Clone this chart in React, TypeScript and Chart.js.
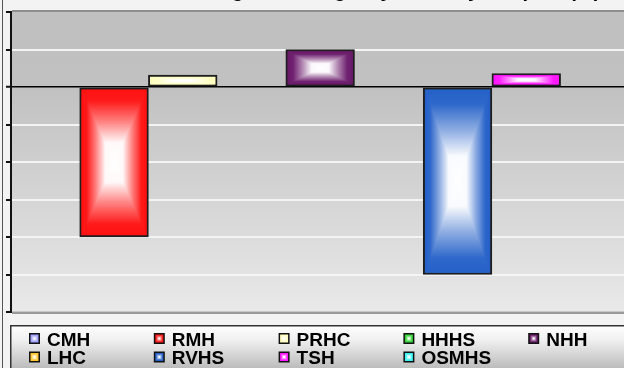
import React, { useEffect, useRef } from "react";
import { Chart, registerables } from "chart.js";

Chart.register(...registerables);

// ---- data ----
const hospitals = ["CMH", "RMH", "PRHC", "HHHS", "NHH", "LHC", "RVHS", "TSH", "OSMHS"];
const changeValues: (number | null)[] = [null, -4, 0.32, null, 1, null, -5, 0.36, null];
const hospitalColors = [
  "#9c9cff", "#ff1212", "#ffffc0", "#33d433", "#6a1a6a",
  "#ffc52a", "#2662c8", "#ff14ff", "#36f2f2",
];
const yMin = -6;
const yMax = 2;
const yStep = 1;
const chartTitle = "Change in Emergency Visits by Hospital (%)";

// ---- canvas geometry ----
const CW = 680;
const CH = 430;
const SHIFT_Y = 30;

function mixWhite(hex: string, w: number): string {
  const n = parseInt(hex.slice(1), 16);
  const r = (n >> 16) & 255, g = (n >> 8) & 255, b = n & 255;
  const m = (c: number) => Math.round(c + (255 - c) * w);
  return `rgb(${m(r)},${m(g)},${m(b)})`;
}

// amount of white at relative depth t (0 = edge, 1 = centre)
const RAMP: [number, number][] = [[0, 0], [0.15, 0.04], [0.45, 0.5], [0.72, 0.97], [1, 1]];
function whiteAt(t: number): number {
  for (let i = 1; i < RAMP.length; i++) {
    const [p0, w0] = RAMP[i - 1];
    const [p1, w1] = RAMP[i];
    if (t <= p1) return w0 + ((t - p0) / (p1 - p0)) * (w1 - w0);
  }
  return 1;
}

// rectangular "path" gradient drawn as nested, proportionally shrinking rectangles
function boxGradient(ctx: CanvasRenderingContext2D, l: number, t: number, r: number, b: number, color: string) {
  const w = r - l, h = b - t;
  if (w <= 0 || h <= 0) return;
  const hw = w / 2, hh = h / 2;
  const steps = Math.max(4, Math.ceil(Math.max(hw, hh)));
  ctx.save();
  for (let k = 0; k < steps; k++) {
    const d = k / steps;
    const dx = d * hw, dy = d * hh;
    ctx.fillStyle = mixWhite(color, whiteAt(d));
    ctx.fillRect(l + dx, t + dy, w - 2 * dx, h - 2 * dy);
  }
  ctx.restore();
}

const framePlugin = {
  id: "frame",
  beforeDraw(chart: any) {
    const { ctx, chartArea: a } = chart;
    ctx.save();
    ctx.fillStyle = "#f3f3f3";
    ctx.fillRect(0, 0, CW, CH);
    const g = ctx.createLinearGradient(0, a.top, 0, a.bottom);
    g.addColorStop(0, "#c0c0c0");
    g.addColorStop(0.25, "#c1c1c1");
    g.addColorStop(1, "#e9e9e9");
    ctx.fillStyle = g;
    ctx.fillRect(a.left, a.top, a.right - a.left, a.bottom - a.top);
    ctx.restore();
  },
  afterDatasetsDraw(chart: any) {
    const ctx = chart.ctx as CanvasRenderingContext2D;
    chart.data.datasets.forEach((ds: any, di: number) => {
      const meta = chart.getDatasetMeta(di);
      meta.data.forEach((el: any, i: number) => {
        if (ds.data[i] == null) return;
        const { x, y, base, width } = el.getProps(["x", "y", "base", "width"], true);
        const bw = ds.borderWidth;
        boxGradient(
          ctx,
          x - width / 2 + bw,
          Math.min(y, base) + bw,
          x + width / 2 - bw,
          Math.max(y, base) - bw,
          ds.backgroundColor
        );
      });
    });
  },
  afterDraw(chart: any) {
    const ctx = chart.ctx as CanvasRenderingContext2D;
    const a = chart.chartArea;
    ctx.save();
    // plot frame, top and bottom edges
    ctx.fillStyle = "#8e8e8e";
    ctx.fillRect(a.left + 1, a.top - 2, CW, 2.5);
    ctx.fillStyle = "#9a9a9a";
    ctx.fillRect(a.left + 1, a.bottom - 0.5, CW, 2.5);
    // outer frame line
    ctx.fillStyle = "#555";
    ctx.fillRect(2, 0, 1, CH);

    // title
    ctx.fillStyle = "#000";
    ctx.font = "bold 20px 'Liberation Sans', Arial, sans-serif";
    ctx.textAlign = "center";
    ctx.textBaseline = "alphabetic";
    ctx.fillText(chartTitle, 391, SHIFT_Y - 3);

    // legend panel
    const lt = SHIFT_Y + 325;
    const lg = ctx.createLinearGradient(0, lt, 0, SHIFT_Y + 368);
    lg.addColorStop(0, "#ffffff");
    lg.addColorStop(0.35, "#f0f0f0");
    lg.addColorStop(1, "#bcbcbc");
    ctx.fillStyle = lg;
    ctx.fillRect(10, lt, CW, CH - lt);
    ctx.strokeStyle = "#333";
    ctx.lineWidth = 1.5;
    ctx.strokeRect(10.75, lt + 0.75, CW, CH);

    ctx.font = "bold 19px 'Liberation Sans', Arial, sans-serif";
    ctx.textAlign = "left";
    chart.data.datasets.forEach((ds: any, i: number) => {
      const col = i % 5, row = Math.floor(i / 5);
      const sx = 29 + col * 124.8;
      const cyc = SHIFT_Y + 338.5 + row * 18.5;
      ctx.fillStyle = "#111";
      ctx.fillRect(sx, cyc - 5.5, 11, 11);
      boxGradient(ctx, sx + 1.5, cyc - 4, sx + 9.5, cyc + 4, ds.backgroundColor);
      ctx.fillStyle = "#000";
      ctx.fillText(ds.label, sx + 18, cyc + 7);
    });
    ctx.restore();
  },
};

export default function App() {
  const canvasRef = useRef<HTMLCanvasElement>(null);

  useEffect(() => {
    const canvas = canvasRef.current;
    if (!canvas) return;
    const chart = new Chart(canvas, {
      type: "bar",
      data: {
        labels: [""],
        datasets: hospitals.map((name, i) => ({
          label: name,
          data: [changeValues[i]],
          backgroundColor: hospitalColors[i],
          borderColor: "#1e1e1e",
          borderWidth: 2,
          borderSkipped: false,
          categoryPercentage: 1,
          barPercentage: 1,
        })),
      },
      options: {
        animation: false,
        responsive: false,
        devicePixelRatio: 1,
        layout: { padding: { top: SHIFT_Y + 12, bottom: CH - (SHIFT_Y + 312), left: 0, right: CW - 629.3 } },
        plugins: { legend: { display: false }, title: { display: false }, tooltip: { enabled: false } },
        scales: {
          x: { display: false },
          y: {
            min: yMin,
            max: yMax,
            ticks: { stepSize: yStep, display: false },
            grid: {
              color: (c: any) => (c.tick && c.tick.value === 0 ? "#000" : "#f4f4f4"),
              lineWidth: (c: any) => (c.tick && c.tick.value === 0 ? 1.5 : 2),
              tickColor: "#111",
              tickWidth: 2,
              tickLength: 5,
            },
            border: { color: "#111", width: 2 },
            afterFit: (s: any) => {
              s.width = 11;
            },
          },
        },
      },
      plugins: [framePlugin],
    } as any);
    return () => chart.destroy();
  }, []);

  return (
    <div style={{ position: "fixed", left: 0, top: 0, width: 624, height: 368, overflow: "hidden", background: "#f3f3f3" }}>
      <canvas
        ref={canvasRef}
        width={CW}
        height={CH}
        style={{ position: "absolute", left: 0, top: -SHIFT_Y, width: CW, height: CH }}
      />
    </div>
  );
}
